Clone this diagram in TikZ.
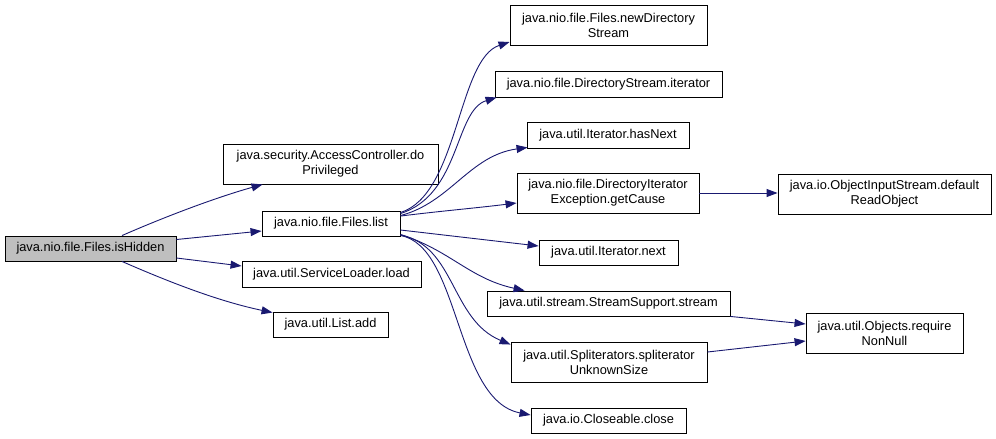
\documentclass[tikz,border=0pt]{standalone}
\usepackage{fontspec}
\setmainfont{Liberation Sans}
\usetikzlibrary{arrows.meta,calc}
\definecolor{edgeblue}{HTML}{191970}
\definecolor{hidgray}{HTML}{BFBFBF}
\begin{document}
\begin{tikzpicture}[x=1pt,y=-1pt,
  fn/.style={draw=black,line width=0.9pt,fill=white,inner sep=0pt,align=center,font=\fontsize{12.8}{15}\selectfont},
  edge/.style={draw=edgeblue,line width=0.9pt,-{Triangle[length=11pt,width=8pt]}}]
\useasboundingbox (0,0) rectangle (996,439);
\node[fn,fill=hidgray,minimum width=171,minimum height=25] (hid) at (90.5,248.5) {java.nio.file.Files.isHidden};
\node[fn,minimum width=215,minimum height=40] (acc) at (330.5,164) {java.security.AccessController.do\\Privileged};
\node[fn,minimum width=138,minimum height=25] (list) at (331,223.5) {java.nio.file.Files.list};
\node[fn,minimum width=179,minimum height=26] (sl) at (331.5,274) {java.util.ServiceLoader.load};
\node[fn,minimum width=115,minimum height=25] (add) at (330.5,324.5) {java.util.List.add};
\node[fn,minimum width=197,minimum height=40] (nds) at (608.5,25) {java.nio.file.Files.newDirectory\\Stream};
\node[fn,minimum width=227,minimum height=26] (dsi) at (608.5,84) {java.nio.file.DirectoryStream.iterator};
\node[fn,minimum width=162,minimum height=26] (hn) at (608,135) {java.util.Iterator.hasNext};
\node[fn,minimum width=182,minimum height=40] (gc) at (608,193) {java.nio.file.DirectoryIterator\\Exception.getCause};
\node[fn,minimum width=139,minimum height=25] (nx) at (608.5,252.5) {java.util.Iterator.next};
\node[fn,minimum width=243,minimum height=25] (ss) at (608.5,303.5) {java.util.stream.StreamSupport.stream};
\node[fn,minimum width=196,minimum height=40] (sp) at (609,362) {java.util.Spliterators.spliterator\\UnknownSize};
\node[fn,minimum width=155,minimum height=25] (cl) at (608.5,420.5) {java.io.Closeable.close};
\node[fn,minimum width=213,minimum height=40] (ois) at (884.5,194) {java.io.ObjectInputStream.default\\ReadObject};
\node[fn,minimum width=157,minimum height=40] (obj) at (884.5,333) {java.util.Objects.require\\NonNull};
% edges from isHidden
\draw[edge] ($(hid.north)+(31.5,0)$) .. controls +(48,-21) and +(-43,12) .. ($(acc.south west)+(40,0)$);
\draw[edge] ($(hid.east)+(0,-9)$) -- ($(list.west)+(0,7.5)$);
\draw[edge] ($(hid.east)+(0,9.5)$) -- ($(sl.west)+(0,-8)$);
\draw[edge] ($(hid.south)+(31.5,0)$) .. controls +(48,21) and +(-53,-11) .. ($(add.north west)+(0,1)$);
% edges from list
\draw[edge] ($(list.north east)+(0,2)$) .. controls +(58,-18) and +(-52,17) .. ($(nds.west)+(0,17)$);
\draw[edge] ($(list.north east)+(0,3)$) .. controls +(60,-19) and +(-42,13) .. ($(dsi.south west)+(2,0)$);
\draw[edge] ($(list.north east)+(0,5)$) .. controls +(50,-13) and +(-58,8) .. ($(hn.south west)+(1,-1)$);
\draw[edge] ($(list.north east)+(0,5.5)$) .. controls +(40,-5) and +(-40,5) .. ($(gc.west)+(0,10)$);
\draw[edge] ($(list.east)+(0,6.5)$) -- ($(nx.west)+(0,-6.5)$);
\draw[edge] ($(list.south east)+(0,-2)$) .. controls +(50,16) and +(-55,-12) .. ($(ss.north west)+(38,0)$);
\draw[edge] ($(list.south east)+(0,-1.5)$) .. controls +(55,11) and +(-60,-25) .. ($(sp.north west)+(0,3)$);
\draw[edge] ($(list.south east)+(0,-1)$) .. controls +(60,11) and +(-76,-15) .. ($(cl.west)+(0,-5.5)$);
% other edges
\draw[edge] (gc.east) -- (ois.west |- gc.east);
\draw[edge] (ss.south east) -- ($(obj.west)+(0,-9)$);
\draw[edge] ($(sp.east)+(0,-10)$) -- ($(obj.west)+(0,8)$);
\end{tikzpicture}
\end{document}
